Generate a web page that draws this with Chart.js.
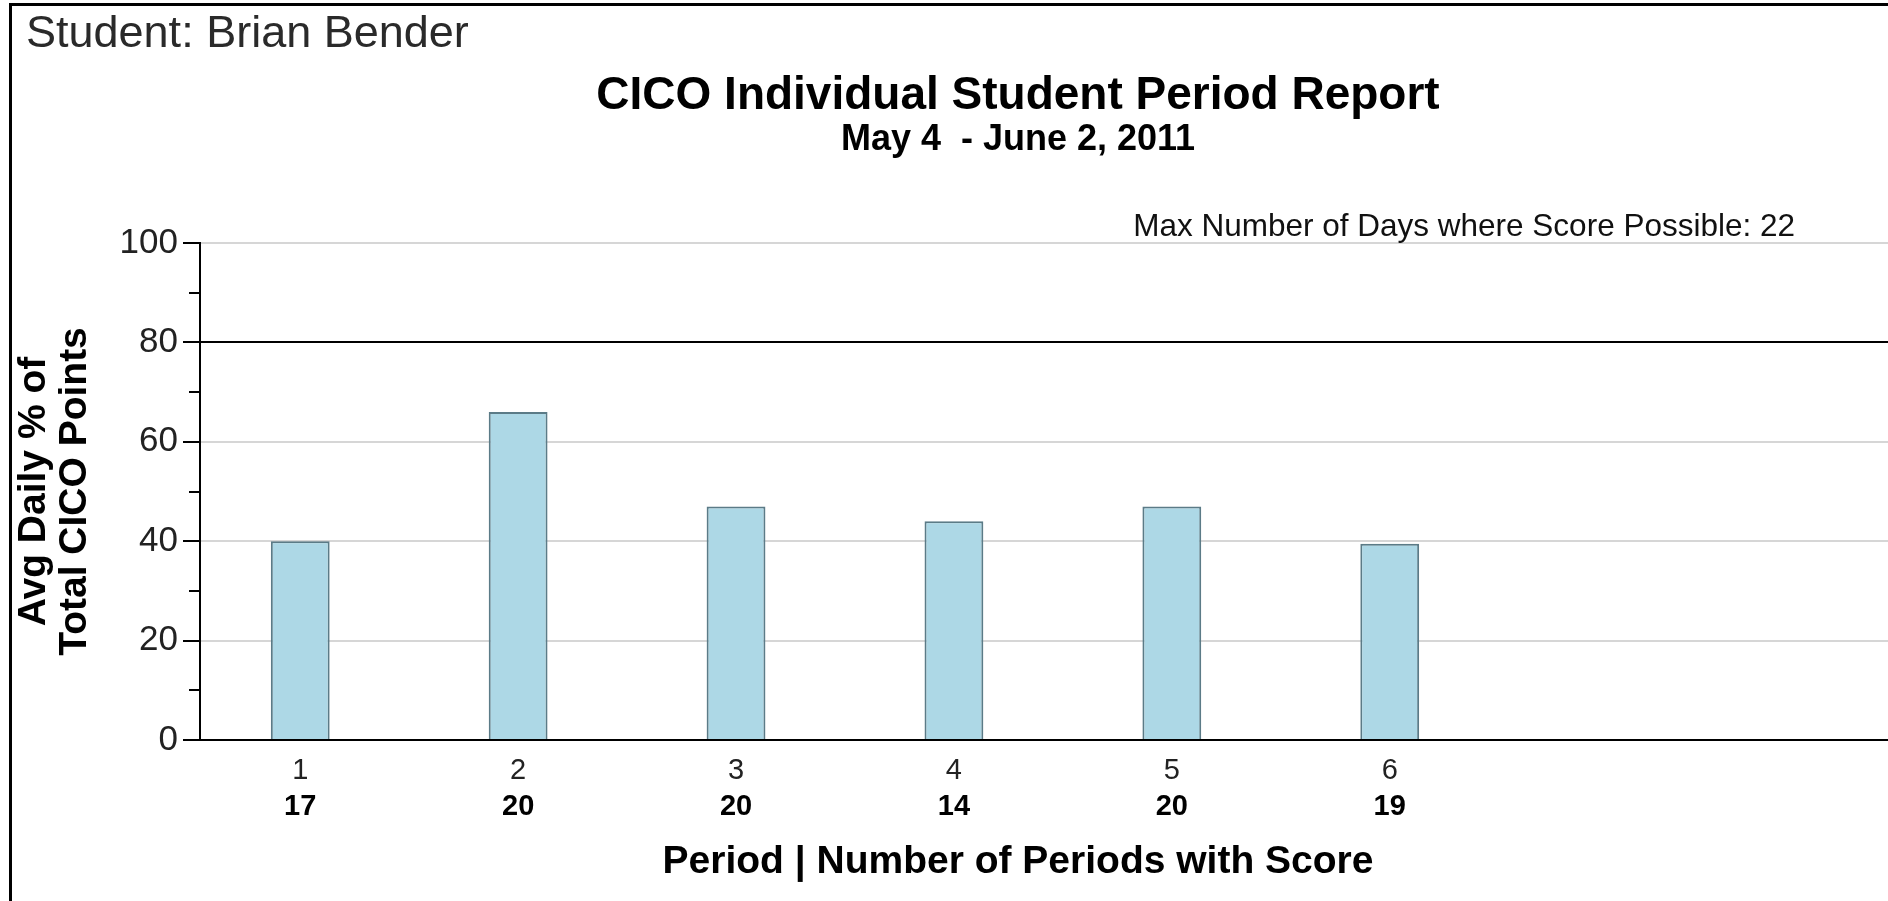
<!DOCTYPE html>
<html>
<head>
<meta charset="utf-8">
<title>CICO Individual Student Period Report</title>
<script src="https://cdn.jsdelivr.net/npm/chart.js"></script>
<style>
  html, body { margin: 0; padding: 0; background: #fff; overflow: hidden; }
  /* the report frame: only top and left edges are visible, the rest is cropped */
  #frame { position: absolute; left: 9px; top: 3px; width: 2100px; height: 1000px; border: 3px solid #000; }
  #wrap { position: absolute; left: 0; top: 0; width: 2036px; height: 901px; }
</style>
</head>
<body>
<div id="frame"></div>
<div id="wrap"><canvas id="chartPeriode"></canvas></div>
<script>
// ---- data ----
const studentName = "Brian Bender";
const reportTitle = "CICO Individual Student Period Report";
const dateRange = "May 4  - June 2, 2011";
const maxDays = 22;
const goalLine = 80;

const periods = [1, 2, 3, 4, 5, 6];
const avgPercent = [40, 66, 47, 44, 47, 39.5];
const periodsWithScore = [17, 20, 20, 14, 20, 19];

// x range so that period 1 sits ~100px right of the y axis
const xMin = 0.54;
const xMax = 8.92;

Chart.defaults.font.family = "'Liberation Sans', Arial, sans-serif";

// free texts that sit outside the scales
const extraText = {
  id: "extraText",
  afterDraw(chart) {
    const ctx = chart.ctx;
    ctx.save();
    ctx.textBaseline = "alphabetic";

    ctx.fillStyle = "#2a2a2a";
    ctx.textAlign = "left";
    ctx.font = "45px 'Liberation Sans', Arial, sans-serif";
    ctx.fillText("Student: " + studentName, 26, 47);

    ctx.fillStyle = "#111";
    ctx.textAlign = "right";
    ctx.font = "31.5px 'Liberation Sans', Arial, sans-serif";
    ctx.fillText("Max Number of Days where Score Possible: " + maxDays, 1795, 236);

    ctx.fillStyle = "#000";
    ctx.textAlign = "center";
    ctx.font = "bold 39px 'Liberation Sans', Arial, sans-serif";
    ctx.fillText("Period | Number of Periods with Score", chart.width / 2, 873);
    ctx.restore();
  }
};

const periodTicks = s => { s.ticks = periods.map(v => ({ value: v })); };

document.addEventListener("DOMContentLoaded", function () {
  const ctx = document.getElementById("chartPeriode");

  new Chart(ctx, {
    type: "bar",
    data: {
      datasets: [{
        label: "Avg Daily %",
        data: periods.map((p, i) => ({ x: p, y: avgPercent[i] })),
        backgroundColor: "#add8e6",
        borderColor: "#5b7b87",
        borderWidth: 2,
        barPercentage: 0.27,
        categoryPercentage: 1,
        xAxisID: "x",
        yAxisID: "y"
      }]
    },
    options: {
      responsive: true,
      maintainAspectRatio: false,
      animation: false,
      layout: { padding: { left: 10, right: 10, top: 0, bottom: 71 } },
      plugins: {
        legend: { display: false },
        tooltip: { enabled: false },
        title: {
          display: true,
          text: reportTitle,
          color: "#000",
          font: { size: 46, weight: "bold", lineHeight: 1 },
          padding: { top: 73, bottom: 0 }
        },
        subtitle: {
          display: true,
          text: dateRange,
          color: "#000",
          font: { size: 36, weight: "bold", lineHeight: 1 },
          padding: { top: 3, bottom: 85 }
        }
      },
      scales: {
        x: {
          type: "linear",
          position: "bottom",
          weight: 1,
          min: xMin,
          max: xMax,
          offset: false,
          afterBuildTicks: periodTicks,
          afterFit: s => { s.height = 50; },
          grid: { display: false, drawTicks: false, offset: false },
          border: { color: "#000", width: 2 },
          ticks: {
            autoSkip: false,
            maxRotation: 0,
            padding: 14,
            color: "#222",
            font: { size: 29 },
            callback: v => String(v)
          }
        },
        x2: {
          type: "linear",
          position: "bottom",
          weight: 2,
          min: xMin,
          max: xMax,
          offset: false,
          afterBuildTicks: periodTicks,
          afterFit: s => { s.height = 40; },
          grid: { display: false, drawTicks: false, offset: false },
          border: { display: false },
          ticks: {
            autoSkip: false,
            maxRotation: 0,
            padding: 0,
            color: "#000",
            font: { size: 29, weight: "bold" },
            callback: v => String(periodsWithScore[periods.indexOf(v)])
          }
        },
        y: {
          min: 0,
          max: 100,
          afterFit: s => { s.width = 190; },
          border: { color: "#000", width: 2 },
          grid: {
            color: c => {
              if (!c.tick) return "#d6d6d6";
              if (c.tick.value === goalLine) return "#000";
              return c.tick.value % 20 === 0 ? "#d6d6d6" : "rgba(0,0,0,0)";
            },
            lineWidth: 2,
            tickColor: "#000",
            tickLength: 17,
            tickWidth: 2,
            // minor ticks (10, 30, ...) are shorter
            tickBorderDash: c => (c.tick && c.tick.value % 20 !== 0) ? [0, 6, 12, 40] : []
          },
          ticks: {
            stepSize: 10,
            autoSkip: false,
            padding: 5,
            color: "#222",
            font: { size: 35 },
            callback: v => (v % 20 === 0 ? v : "")
          },
          title: {
            display: true,
            text: ["Avg Daily % of", "Total CICO Points"],
            color: "#000",
            font: { size: 39, weight: "bold", lineHeight: 1.05 },
            padding: { top: 4, bottom: 0 }
          }
        }
      }
    },
    plugins: [extraText]
  });
});
</script>
</body>
</html>
